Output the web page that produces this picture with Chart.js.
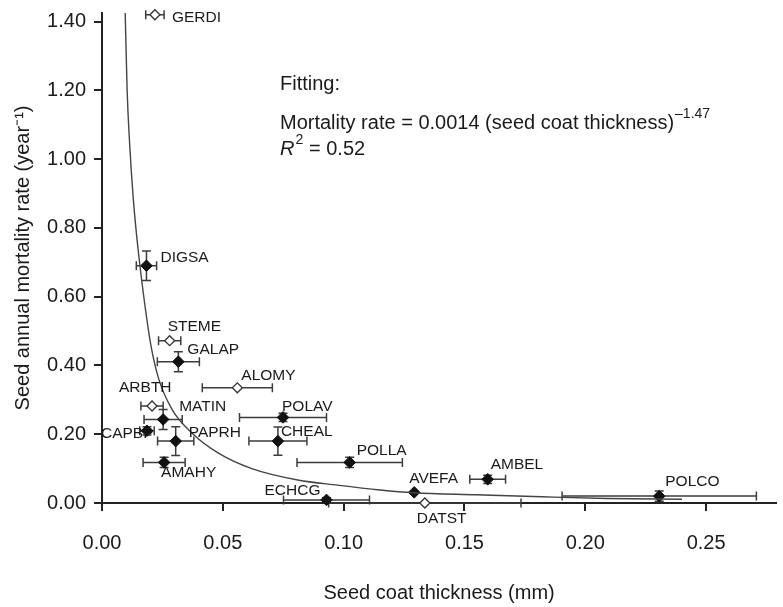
<!DOCTYPE html>
<html>
<head>
<meta charset="utf-8">
<script src="https://cdn.jsdelivr.net/npm/chart.js@4"></script>
<style>
  html, body { margin: 0; padding: 0; background: #fff; }
  #wrap { width: 783px; height: 607px; }
</style>
</head>
<body>
<div id="wrap"><canvas id="chart"></canvas></div>
<script>
// species codes and values
const species = ['GERDI', 'DIGSA', 'STEME', 'GALAP', 'ALOMY', 'ARBTH', 'MATIN', 'CAPBP', 'PAPRH',
  'AMAHY', 'POLAV', 'CHEAL', 'POLLA', 'AVEFA', 'AMBEL', 'POLCO', 'ECHCG', 'DATST'];
const thickness = [0.0219, 0.0184, 0.0280, 0.0316, 0.0560, 0.0207, 0.0253, 0.0186, 0.0305,
  0.0257, 0.0749, 0.0728, 0.1025, 0.1292, 0.1596, 0.2306, 0.0929, 0.1336];
const mortality = [1.420, 0.690, 0.472, 0.411, 0.335, 0.282, 0.243, 0.210, 0.180,
  0.118, 0.249, 0.180, 0.118, 0.031, 0.069, 0.020, 0.009, 0.000];
const thicknessErr = [0.0038, 0.0042, 0.0046, 0.0087, 0.0145, 0.0046, 0.0079, 0.0030, 0.0075,
  0.0087, 0.0180, 0.0120, 0.0218, 0, 0.0074, 0.0402, 0.0178, 0.0398];
const mortalityErr = [0, 0.043, 0, 0.029, 0, 0, 0.029, 0.012, 0.042,
  0.015, 0.012, 0.041, 0.015, 0, 0.012, 0.015, 0.006, 0];
const openMarker = [true, false, true, false, true, true, false, false, false,
  false, false, false, false, false, false, false, false, true];

// fitted curve
const curveX = [0.0096, 0.0104, 0.0114, 0.0130, 0.0149, 0.0171, 0.0202, 0.0236, 0.0291, 0.0373,
  0.0482, 0.0620, 0.0810, 0.0974, 0.1150, 0.1290, 0.1550, 0.1820, 0.2090, 0.2400];
const curveY = [1.425, 1.200, 1.050, 0.880, 0.740, 0.610, 0.460, 0.358, 0.271, 0.203,
  0.145, 0.100, 0.067, 0.052, 0.038, 0.030, 0.024, 0.018, 0.013, 0.011];

const xTicks = [0, 0.05, 0.10, 0.15, 0.20, 0.25];
const yTicks = [0, 0.2, 0.4, 0.6, 0.8, 1.0, 1.2, 1.4];

// label placement (pixel offset from the marker), layout only
const labelOffsets = {
  GERDI: [17, 3], DIGSA: [14, -8], STEME: [-2, -14], GALAP: [9, -12], ALOMY: [4, -12],
  ARBTH: [-33, -18], MATIN: [16, -13], CAPBP: [-46, 3], PAPRH: [13, -8], AMAHY: [-3, 10],
  POLAV: [-1, -11], CHEAL: [3, -9], POLLA: [7, -12], AVEFA: [-5, -14], AMBEL: [3, -15],
  POLCO: [6, -14], ECHCG: [-62, -9], DATST: [-8, 16]
};

const FONT = '"Liberation Sans", Arial, Helvetica, sans-serif';
const INK = '#1a1a1a';

const pointsOf = (open) => species
  .map((s, i) => ({ x: thickness[i], y: mortality[i], open: openMarker[i] }))
  .filter(p => p.open === open);

const errorBars = {
  id: 'errorBars',
  beforeDatasetsDraw(chart) {
    const { ctx, scales: { x, y } } = chart;
    const cap = 4.5;
    ctx.save();
    ctx.strokeStyle = '#3c3c3c';
    ctx.lineWidth = 1.5;
    species.forEach((s, i) => {
      const px = x.getPixelForValue(thickness[i]);
      const py = y.getPixelForValue(mortality[i]);
      ctx.beginPath();
      if (thicknessErr[i] > 0) {
        const x1 = x.getPixelForValue(thickness[i] - thicknessErr[i]);
        const x2 = x.getPixelForValue(thickness[i] + thicknessErr[i]);
        ctx.moveTo(x1, py); ctx.lineTo(x2, py);
        ctx.moveTo(x1, py - cap); ctx.lineTo(x1, py + cap);
        ctx.moveTo(x2, py - cap); ctx.lineTo(x2, py + cap);
      }
      if (mortalityErr[i] > 0) {
        const y1 = y.getPixelForValue(mortality[i] - mortalityErr[i]);
        const y2 = y.getPixelForValue(mortality[i] + mortalityErr[i]);
        ctx.moveTo(px, y1); ctx.lineTo(px, y2);
        ctx.moveTo(px - cap, y1); ctx.lineTo(px + cap, y1);
        ctx.moveTo(px - cap, y2); ctx.lineTo(px + cap, y2);
      }
      ctx.stroke();
    });
    ctx.restore();
  }
};

const speciesLabels = {
  id: 'speciesLabels',
  afterDatasetsDraw(chart) {
    const { ctx, scales: { x, y } } = chart;
    ctx.save();
    ctx.font = '15.5px ' + FONT;
    ctx.fillStyle = INK;
    ctx.textAlign = 'left';
    ctx.textBaseline = 'middle';
    species.forEach((s, i) => {
      const [dx, dy] = labelOffsets[s];
      ctx.fillText(s, x.getPixelForValue(thickness[i]) + dx, y.getPixelForValue(mortality[i]) + dy);
    });
    ctx.restore();
  }
};

const fitNote = {
  id: 'fitNote',
  afterDraw(chart) {
    const { ctx, chartArea } = chart;
    const left = chartArea.left + 178;
    ctx.save();
    ctx.fillStyle = INK;
    ctx.textBaseline = 'middle';
    ctx.textAlign = 'left';
    ctx.font = '20px ' + FONT;
    ctx.fillText('Fitting:', left, 84);
    const eq = 'Mortality rate = 0.0014 (seed coat thickness)';
    ctx.fillText(eq, left, 123);
    const w = ctx.measureText(eq).width;
    ctx.font = '14px ' + FONT;
    ctx.fillText('\u20131.47', left + w + 1, 114);
    ctx.font = 'italic 20px ' + FONT;
    ctx.fillText('R', left, 149);
    const rw = ctx.measureText('R').width;
    ctx.font = '14px ' + FONT;
    ctx.fillText('2', left + rw + 1, 140);
    ctx.font = '20px ' + FONT;
    ctx.fillText(' = 0.52', left + rw + 9, 149);
    ctx.restore();
  }
};

const axisStyle = {
  border: { display: true, color: '#222', width: 2 },
  grid: { display: true, drawOnChartArea: false, drawTicks: true, tickLength: 8, tickColor: '#222', lineWidth: 2 }
};

new Chart(document.getElementById('chart'), {
  type: 'scatter',
  data: {
    datasets: [
      {
        label: 'fit',
        data: curveX.map((v, i) => ({ x: v, y: curveY[i] })),
        showLine: true,
        borderColor: '#444',
        borderWidth: 1.4,
        pointRadius: 0,
        cubicInterpolationMode: 'monotone',
        clip: false
      },
      {
        label: 'filled',
        data: pointsOf(false),
        pointStyle: 'rectRot',
        pointRadius: 5.8,
        backgroundColor: '#111',
        borderColor: '#111',
        borderWidth: 1,
        clip: false
      },
      {
        label: 'open',
        data: pointsOf(true),
        pointStyle: 'rectRot',
        pointRadius: 5,
        backgroundColor: '#fff',
        borderColor: '#333',
        borderWidth: 1.3,
        clip: false
      }
    ]
  },
  options: {
    responsive: true,
    maintainAspectRatio: false,
    animation: false,
    devicePixelRatio: 1,
    layout: { padding: { top: 13, right: 0, bottom: 0, left: 0 } },
    plugins: { legend: { display: false }, tooltip: { enabled: false } },
    scales: {
      x: {
        type: 'linear',
        min: 0,
        max: 0.279,
        ...axisStyle,
        afterBuildTicks(scale) { scale.ticks = xTicks.map(v => ({ value: v })); },
        afterFit(scale) { scale.height = 104; scale.paddingLeft = 0; scale.paddingRight = 0; },
        ticks: {
          color: INK,
          padding: 20,
          font: { family: FONT, size: 20 },
          callback: v => v.toFixed(2)
        },
        title: {
          display: true,
          text: 'Seed coat thickness (mm)',
          color: INK,
          font: { family: FONT, size: 20 },
          padding: { top: 0, bottom: 2 }
        }
      },
      y: {
        type: 'linear',
        min: 0,
        max: 1.425,
        ...axisStyle,
        afterBuildTicks(scale) { scale.ticks = yTicks.map(v => ({ value: v })); },
        afterFit(scale) { scale.width = 102; scale.paddingTop = 0; scale.paddingBottom = 0; },
        ticks: {
          color: INK,
          padding: 8,
          font: { family: FONT, size: 20 },
          callback: v => v.toFixed(2)
        },
        title: {
          display: true,
          text: 'Seed annual mortality rate (year\u207B\u00B9)',
          color: INK,
          font: { family: FONT, size: 20 },
          padding: { top: 11, bottom: 0 }
        }
      }
    }
  },
  plugins: [errorBars, speciesLabels, fitNote]
});
</script>
</body>
</html>
